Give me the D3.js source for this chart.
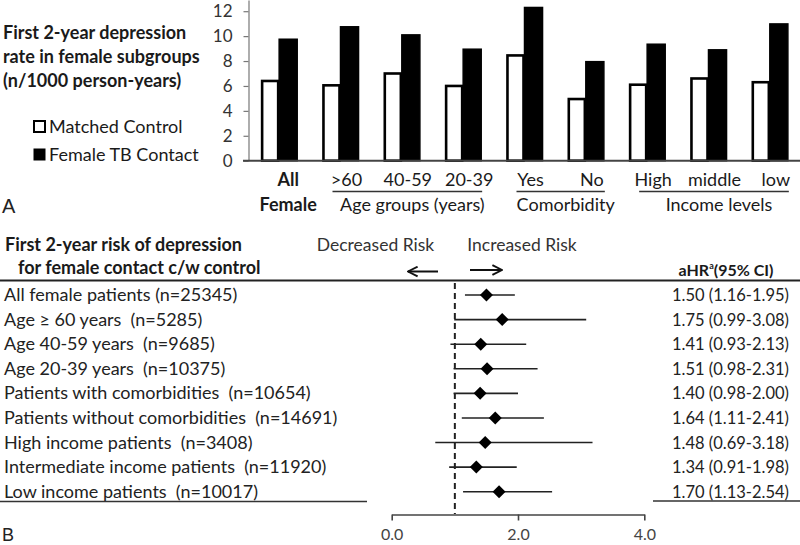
<!DOCTYPE html>
<html><head><meta charset="utf-8">
<script src="https://cdn.jsdelivr.net/npm/d3@7"></script>
<style>
body{margin:0;background:#fff;}
svg{display:block;font-family:Lato, "Open Sans", sans-serif;}
text{white-space:pre;}
</style></head>
<body><svg id="c" width="800" height="545"></svg>
<script>
// ---------- Panel A data ----------
const categories = ["All Female", ">60", "40-59", "20-39", "Yes", "No", "High", "middle", "low"];
const controlRates = [6.4, 6.05, 7.0, 6.0, 8.45, 4.95, 6.1, 6.6, 6.3];
const contactRates = [9.75, 10.75, 10.1, 8.95, 12.3, 7.95, 9.35, 8.9, 10.98];
const seriesNames = ["Matched Control", "Female TB Contact"];
const yTicks = [0, 2, 4, 6, 8, 10, 12];
const groups = [
  {name: "Age groups (years)", members: [">60", "40-59", "20-39"]},
  {name: "Comorbidity", members: ["Yes", "No"]},
  {name: "Income levels", members: ["High", "middle", "low"]}
];
// ---------- Panel B data ----------
const subgroups = ["All female patients (n=25345)", "Age \u2265 60 years  (n=5285)", "Age 40-59 years  (n=9685)",
  "Age 20-39 years  (n=10375)", "Patients with comorbidities  (n=10654)", "Patients without comorbidities  (n=14691)",
  "High income patients  (n=3408)", "Intermediate income patients  (n=11920)", "Low income patients  (n=10017)"];
const hr = [1.50, 1.75, 1.41, 1.51, 1.40, 1.64, 1.48, 1.34, 1.70];
const ciLow = [1.16, 0.99, 0.93, 0.98, 0.98, 1.11, 0.69, 0.91, 1.13];
const ciHigh = [1.95, 3.08, 2.13, 2.31, 2.00, 2.41, 3.18, 1.98, 2.54];
const forestTicks = [0, 2, 4];

const svg = d3.select("#c");
const ink = "#1a1a1a";

// ===== Panel A =====
const y = d3.scaleLinear().domain([0, 12.9]).range([160.7, 0]);
const x = d3.scaleBand().domain(categories).range([248.5, 800.5]).paddingInner(0);
const x1 = d3.scaleBand().domain(["control", "contact"]).range([0, x.bandwidth()]).paddingInner(0).paddingOuter(0.7);

const gA = svg.append("g");
const yAxis = d3.axisLeft(y).tickValues(yTicks).tickSize(5).tickSizeOuter(0).tickPadding(11);
const ya = gA.append("g").attr("transform", "translate(248.5,0)").call(yAxis);
ya.select(".domain").attr("stroke", "#777").attr("stroke-width", 1.2);
ya.selectAll(".tick line").attr("stroke", "#777").attr("stroke-width", 1.2);
ya.selectAll(".tick text").attr("font-size", 17).attr("fill", "#333").attr("font-family", "Lato");

const bars = categories.map((c, i) => ({c, control: controlRates[i], contact: contactRates[i]}));
const bg = gA.selectAll("g.bar").data(bars).join("g").attr("transform", d => `translate(${x(d.c)},0)`);
bg.append("rect")
  .attr("x", x1("control") + 1).attr("width", x1.bandwidth() - 2)
  .attr("y", d => y(d.control)).attr("height", d => y(0) - y(d.control))
  .attr("fill", "#fff").attr("stroke", "#000").attr("stroke-width", 2.6);
bg.append("rect")
  .attr("x", x1("contact")).attr("width", x1.bandwidth())
  .attr("y", d => y(d.contact)).attr("height", d => y(0) - y(d.contact))
  .attr("fill", "#000").attr("stroke", "#000").attr("stroke-width", 1.5);

// baseline
gA.append("line").attr("x1", 243).attr("x2", 800).attr("y1", y(0)).attr("y2", y(0))
  .attr("stroke", "#444").attr("stroke-width", 2);

// category labels
const lab = gA.append("g").attr("font-size", 18).attr("fill", ink).attr("text-anchor", "middle");
categories.forEach((c, i) => {
  const cx = x(c) + x.bandwidth() / 2 + 6;
  if (i === 0) {
    const parts = c.split(" ");
    lab.append("text").attr("x", cx + 3).attr("y", 186).attr("font-weight", "bold").text(parts[0]);
    lab.append("text").attr("x", cx + 3).attr("y", 211).attr("font-weight", "bold").text(parts[1]);
  } else {
    lab.append("text").attr("x", cx).attr("y", 186).text(c);
  }
});
groups.forEach(g => {
  const a = x(g.members[0]) + x.bandwidth() / 2 - 8;
  const b = x(g.members[g.members.length - 1]) + x.bandwidth() / 2 + 19;
  lab.append("line").attr("x1", a).attr("x2", b).attr("y1", 191.5).attr("y2", 191.5)
    .attr("stroke", "#333").attr("stroke-width", 1.3);
  lab.append("text").attr("x", (a + b) / 2 + 5).attr("y", 211).text(g.name);
});

// title + legend
const tA = ["First 2-year depression", "rate in female subgroups", "(n/1000 person-years)"];
svg.append("g").selectAll("text").data(tA).join("text")
  .attr("x", 3).attr("y", (d, i) => 39 + i * 24).attr("font-size", 18).attr("font-weight", "bold")
  .attr("fill", ink).text(d => d);
const leg = svg.append("g");
seriesNames.forEach((s, i) => {
  const yy = 127 + i * 28;
  leg.append("rect").attr("x", 34).attr("y", yy - 6).attr("width", 11).attr("height", 11)
    .attr("fill", i === 0 ? "#fff" : "#000").attr("stroke", "#000").attr("stroke-width", i === 0 ? 2 : 1);
  leg.append("text").attr("x", 49).attr("y", yy + 6).attr("font-size", 18).attr("fill", ink).text(s);
});
svg.append("text").attr("x", 2).attr("y", 213).attr("font-size", 20).attr("font-family", "Liberation Sans").attr("fill", "#222").text("A");

// ===== Panel B =====
const xF = d3.scaleLinear().domain([0, 4]).range([391.7, 644.3]);
const yF = d3.scalePoint().domain(subgroups).range([295, 491.7]);
const gB = svg.append("g");

gB.append("text").attr("x", 5).attr("y", 251).attr("font-size", 18).attr("font-weight", "bold").attr("fill", ink)
  .text("First 2-year risk of depression");
gB.append("text").attr("x", 18).attr("y", 274).attr("font-size", 18).attr("font-weight", "bold").attr("fill", ink)
  .text("for female contact c/w control");
gB.append("text").attr("x", 375.5).attr("y", 251).attr("text-anchor", "middle").attr("font-size", 17.5).attr("fill", "#333")
  .text("Decreased Risk");
gB.append("text").attr("x", 522).attr("y", 251).attr("text-anchor", "middle").attr("font-size", 17.5).attr("fill", "#333")
  .text("Increased Risk");
// arrows
const defs = svg.append("defs");
defs.append("marker").attr("id", "ah").attr("viewBox", "0 0 10 10").attr("refX", 9).attr("refY", 5)
  .attr("markerWidth", 6).attr("markerHeight", 6).attr("orient", "auto")
  .append("path").attr("d", "M1,1 L9,5 L1,9").attr("fill", "none").attr("stroke", "#111").attr("stroke-width", 1.6);
gB.append("line").attr("x1", 438).attr("x2", 408).attr("y1", 271.5).attr("y2", 271.5)
  .attr("stroke", "#111").attr("stroke-width", 2).attr("marker-end", "url(#ah)");
gB.append("line").attr("x1", 470).attr("x2", 502).attr("y1", 270).attr("y2", 270)
  .attr("stroke", "#111").attr("stroke-width", 2).attr("marker-end", "url(#ah)");

const hdr = gB.append("text").attr("x", 726).attr("y", 276).attr("text-anchor", "middle")
  .attr("font-size", 16).attr("font-weight", "bold").attr("fill", ink);
hdr.append("tspan").text("aHR");
hdr.append("tspan").attr("font-size", 9).attr("dy", -7).text("a");
hdr.append("tspan").attr("dy", 7).text("(95% CI)");

gB.append("line").attr("x1", 0).attr("x2", 800).attr("y1", 280.5).attr("y2", 280.5).attr("stroke", "#222").attr("stroke-width", 2);
gB.append("line").attr("x1", 0).attr("x2", 367).attr("y1", 501.5).attr("y2", 501.5).attr("stroke", "#333").attr("stroke-width", 1.6);
gB.append("line").attr("x1", 653).attr("x2", 800).attr("y1", 501).attr("y2", 501).attr("stroke", "#333").attr("stroke-width", 1.6);

// reference line
gB.append("line").attr("x1", xF(1)).attr("x2", xF(1)).attr("y1", 283).attr("y2", 514)
  .attr("stroke", "#222").attr("stroke-width", 2).attr("stroke-dasharray", "6,4");

const rows = subgroups.map((s, i) => ({s, hr: hr[i], lo: ciLow[i], hi: ciHigh[i]}));
const rg = gB.selectAll("g.row").data(rows).join("g");
rg.append("text").attr("x", 4).attr("y", d => yF(d.s) + 6).attr("font-size", 18).attr("fill", "#222").text(d => d.s);
rg.append("line").attr("x1", d => xF(d.lo)).attr("x2", d => xF(d.hi)).attr("y1", d => yF(d.s)).attr("y2", d => yF(d.s))
  .attr("stroke", "#222").attr("stroke-width", 1.6);
rg.append("path").attr("d", d => { const cx = xF(d.hr), cy = yF(d.s); return `M${cx - 6.5},${cy} L${cx},${cy - 6.5} L${cx + 6.5},${cy} L${cx},${cy + 6.5} Z`; })
  .attr("fill", "#000");
const f2 = d3.format(".2f");
rg.append("text").attr("x", 789).attr("y", d => yF(d.s) + 6).attr("text-anchor", "end").attr("font-size", 16.5).attr("fill", "#222")
  .text(d => `${f2(d.hr)} (${f2(d.lo)}-${f2(d.hi)})`);

const xa = gB.append("g").attr("transform", "translate(0,514.5)")
  .call(d3.axisBottom(xF).tickValues(forestTicks).tickFormat(d3.format(".1f")).tickSize(6).tickSizeOuter(0).tickPadding(8));
xa.select(".domain").attr("stroke", "#444").attr("stroke-width", 1.6);
xa.selectAll(".tick line").attr("stroke", "#444").attr("stroke-width", 1.6);
xa.selectAll(".tick text").attr("font-size", 16).attr("fill", "#444").attr("font-family", "Lato");

svg.append("text").attr("x", 2).attr("y", 541).attr("font-size", 18).attr("font-family", "Liberation Sans").attr("fill", "#222").text("B");
</script></body></html>
